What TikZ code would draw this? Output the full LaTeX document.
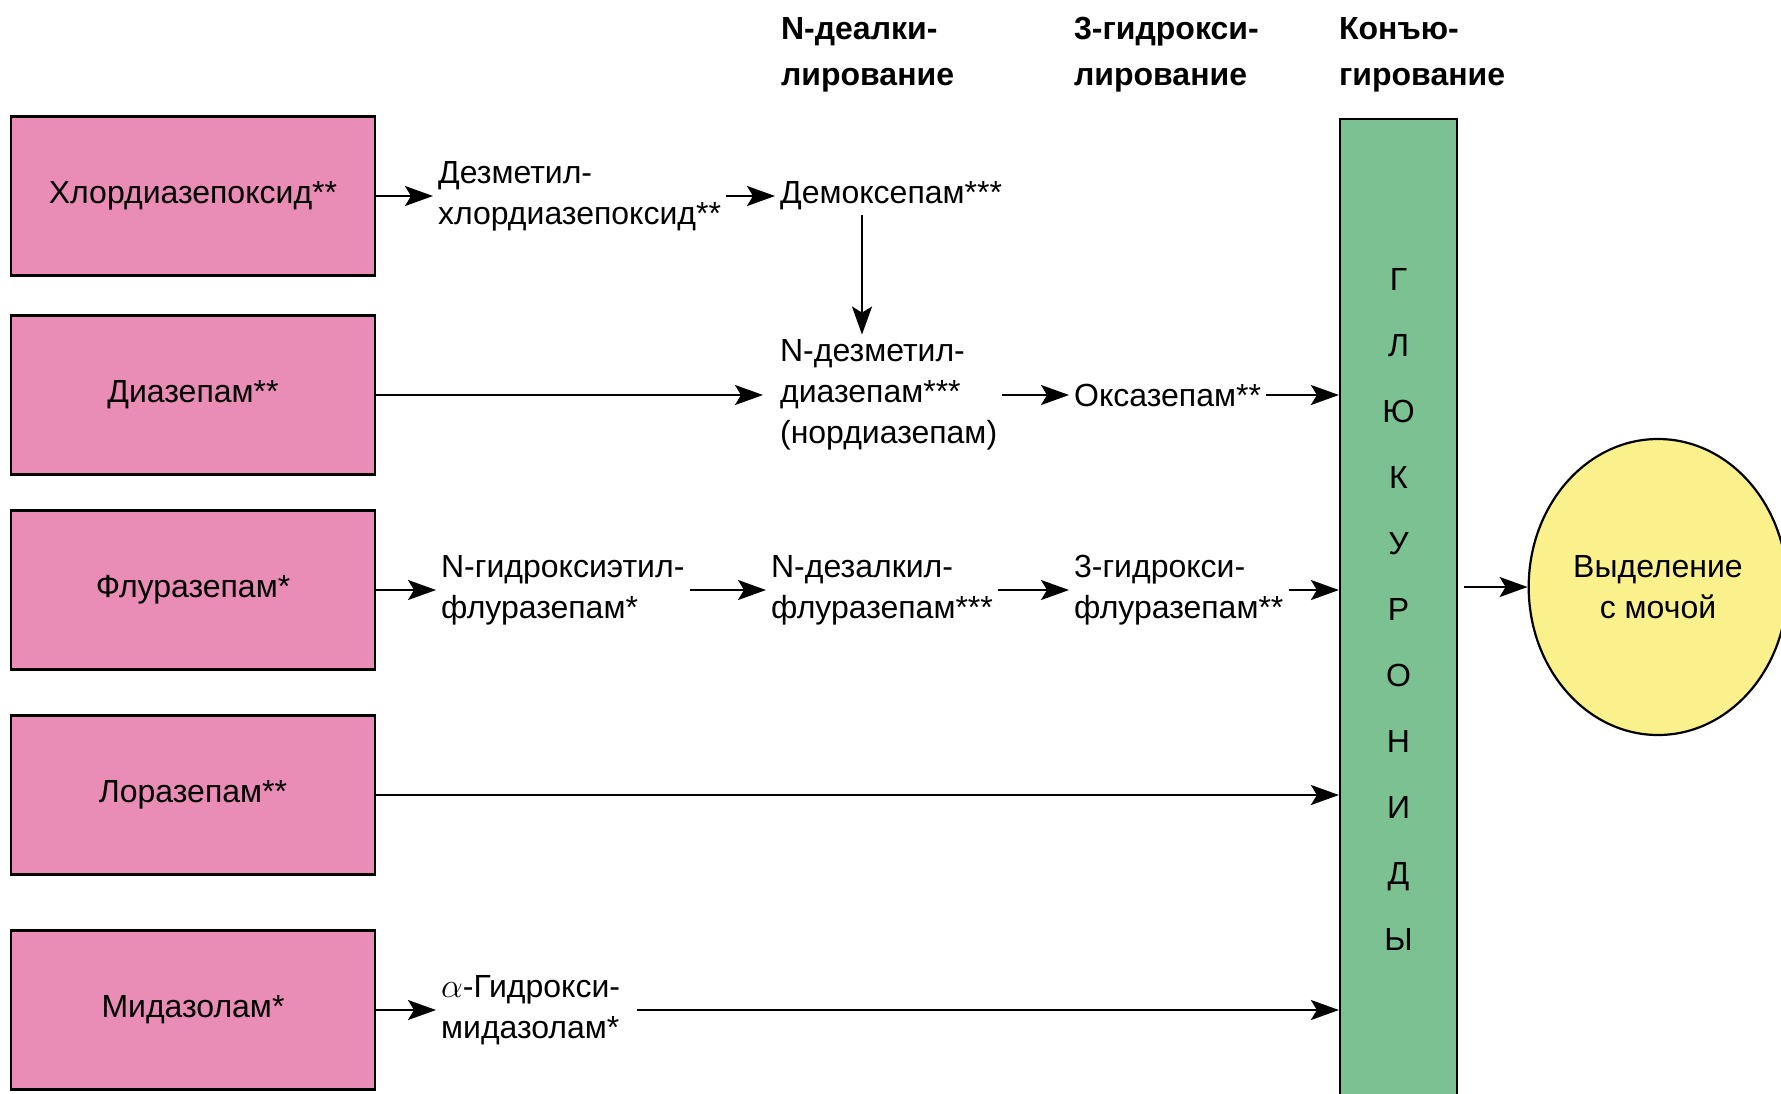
\documentclass[tikz,border=0pt]{standalone}
\usepackage{fontspec}
\setmainfont{Liberation Sans}
\usepackage{xcolor}
\usetikzlibrary{positioning,arrows.meta,shapes.geometric}
\definecolor{drugpink}{RGB}{233,140,182}
\definecolor{glugreen}{RGB}{124,193,146}
\definecolor{urineyellow}{RGB}{250,241,140}

\begin{document}
\begin{tikzpicture}[x=0.5pt,y=-0.5pt,
  font=\fontsize{16}{20.5}\selectfont,
  line width=1.1pt,
  drug/.style={draw,fill=drugpink,minimum width=182pt,minimum height=79.5pt,align=center},
  met/.style={anchor=west,align=left,inner sep=2pt},
  hdr/.style={anchor=west,align=left,inner sep=2pt,font=\fontsize{16}{23}\selectfont\bfseries},
  >={Stealth[length=14pt,width=10pt,inset=3pt]}]
\useasboundingbox (0,0) rectangle (1781,1093);
% исходные препараты
\node[drug] (hlor) at (193,196) {Хлордиазепоксид**};
\node[drug] (diaz) at (193,395) {Диазепам**};
\node[drug] (flur) at (193,590) {Флуразепам*};
\node[drug] (lora) at (193,795) {Лоразепам**};
\node[drug] (mida) at (193,1010) {Мидазолам*};
% заголовки этапов
\node[hdr] (hdeal) at (776,55) {N-деалки-\\лирование};
\node[hdr] (hgidr) at (1069,55) {3-гидрокси-\\лирование};
\node[hdr] (hkonj) at (1334,55) {Конъю-\\гирование};
% метаболиты
\node[met] (dezhlor) at (433,196) {Дезметил-\\хлордиазепоксид**};
\node[met] (demox) at (775,196) {Демоксепам***};
\node[met] (nordiaz) at (775,395) {N-дезметил-\\диазепам***\\(нордиазепам)};
\node[met] (oksaz) at (1069,395) {Оксазепам**};
\node[met] (gidret) at (436,590) {N-гидроксиэтил-\\флуразепам*};
\node[met] (dezalk) at (766,590) {N-дезалкил-\\флуразепам***};
\node[met] (gidrfl) at (1069,590) {3-гидрокси-\\флуразепам**};
\node[met] (amida) at (436,1010) {$\alpha$-Гидрокси-\\мидазолам*};
% глюкурониды и выведение
\node[draw,fill=glugreen,minimum width=58.5pt,minimum height=490pt,align=center,
  font=\fontsize{16}{33}\selectfont] (glu) at (1398.5,609)
  {Г\\Л\\Ю\\К\\У\\Р\\О\\Н\\И\\Д\\Ы};
\node[draw,ellipse,fill=urineyellow,minimum width=119pt,minimum height=148pt,align=center] (urine) at (1658,587) {Выделение\\с мочой};
\draw[->] (hlor) -- (dezhlor);
\draw[->] (dezhlor) -- (demox);
\draw[->] ([xshift=43.5pt]demox.south west) -- ([xshift=43.5pt]nordiaz.north west);
\draw[->,shorten >=6pt] (diaz) -- (nordiaz);
\draw[->] (nordiaz) -- (oksaz);
\draw[->] (oksaz) -- (oksaz -| glu.west);
\draw[->] (flur) -- (gidret);
\draw[->] (gidret) -- (dezalk);
\draw[->] (dezalk) -- (gidrfl);
\draw[->] (gidrfl) -- (gidrfl -| glu.west);
\draw[->] (lora) -- (lora -| glu.west);
\draw[->] (mida) -- (amida);
\draw[->,shorten <=6pt] (amida) -- (amida -| glu.west);
\draw[->,shorten <=3pt] (glu.east |- urine) -- (urine);
\end{tikzpicture}
\end{document}
